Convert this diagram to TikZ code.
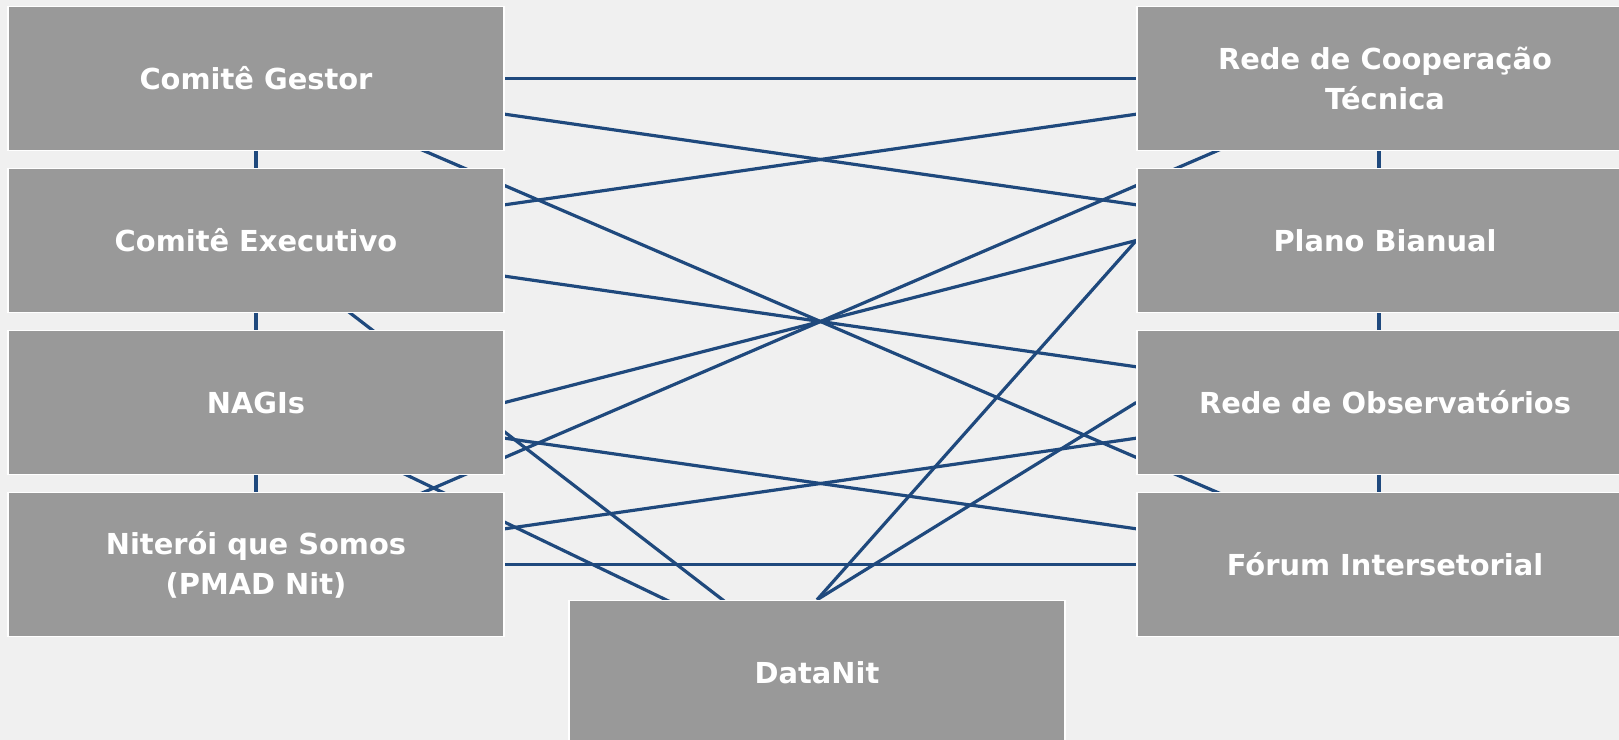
\documentclass[tikz,border=0pt]{standalone}
\usepackage{fontspec}
\setmainfont{DejaVu Sans}
\usetikzlibrary{backgrounds}
\pgfdeclarelayer{bg}
\pgfdeclarelayer{background}
\pgfsetlayers{bg,background,main}
\definecolor{linec}{HTML}{1F497D}
\definecolor{boxc}{HTML}{999999}
\definecolor{bgc}{HTML}{F0F0F0}
\begin{document}
\begin{tikzpicture}[x=1bp,y=-1bp,
  box/.style={rectangle, draw=white, line width=1.5bp, fill=boxc,
    minimum width=496bp, minimum height=144bp, inner sep=0pt,
    text=white, align=center, font=\fontsize{29}{40}\selectfont\bfseries},
  link/.style={draw=linec, line width=3.2bp}]
\begin{pgfonlayer}{bg}
  \fill[bgc] (0,0) rectangle (1619,740);
\end{pgfonlayer}
\useasboundingbox (0,0) rectangle (1619,740);

\node[box] (g)  at (256,78.5)  {Comitê Gestor};
\node[box] (e)  at (256,240.5) {Comitê Executivo};
\node[box] (n)  at (256,402.5) {NAGIs};
\node[box] (s)  at (256,564.5) {Niterói que Somos\\(PMAD Nit)};
\node[box] (rc) at (1385,78.5)  {Rede de Cooperação\\Técnica};
\node[box] (pb) at (1385,240.5) {Plano Bianual};
\node[box] (ro) at (1385,402.5) {Rede de Observatórios};
\node[box] (fi) at (1385,564.5) {Fórum Intersetorial};
\node[box] (dn) at (817,672.5) {DataNit};

\begin{pgfonlayer}{background}
  % vertical chains
  \draw[link] (g) -- (e) -- (n) -- (s);
  \draw[link] ([xshift=-6bp]rc.center) -- ([xshift=-6bp]pb.center) -- ([xshift=-6bp]ro.center) -- ([xshift=-6bp]fi.center);
  % center-to-center links
  \draw[link] (g.center) -- (rc.center);
  \draw[link] (g.center) -- (pb.center);
  \draw[link] (g.center) -- (fi.center);
  \draw[link] (e.center) -- (rc.center);
  \draw[link] (e.center) -- (ro.center);
  \draw[link] (e.center) -- (dn.center);
  \draw[link] (n.center) -- (dn.center);
  \draw[link] (n.center) -- (fi.center);
  \draw[link] (s.center) -- (rc.center);
  \draw[link] (s.center) -- (ro.center);
  \draw[link] (s.center) -- (fi.center);
  % side links
  \draw[link] (n.east) -- (pb.west);
  \draw[link] (dn.north) -- (pb.west);
  \draw[link] (dn.north) -- (ro.west);
\end{pgfonlayer}
\end{tikzpicture}
\end{document}
